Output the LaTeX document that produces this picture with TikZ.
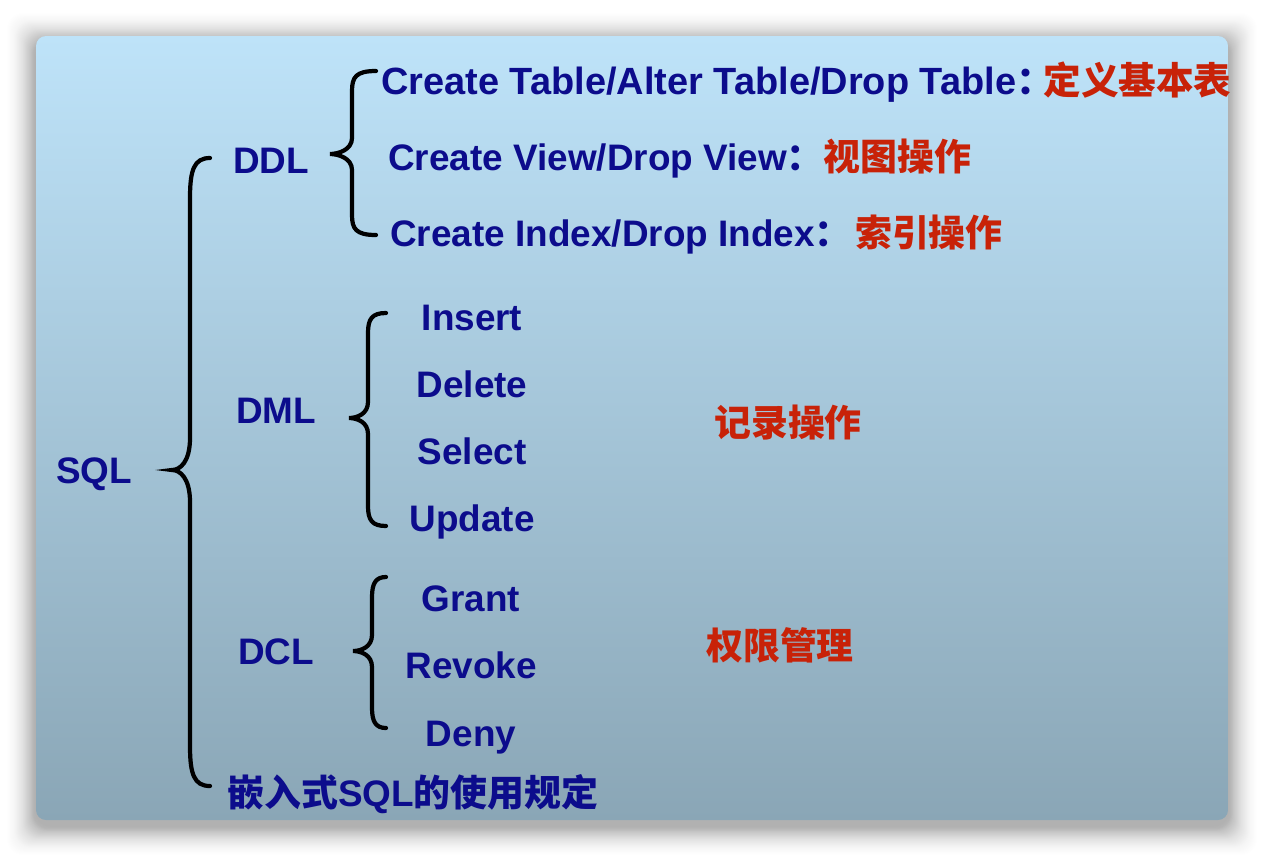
\documentclass[tikz,border=0pt]{standalone}
\usepackage{fontspec}
\setmainfont{Liberation Sans}
\newfontfamily\cjk{Noto Sans CJK SC}
\usepackage{xcolor}
\usepackage{tikz}

\definecolor{sqlnavy}{RGB}{12,12,140}
\definecolor{sqlred}{RGB}{200,34,8}
\definecolor{paneltop}{RGB}{190,227,249}
\definecolor{panelbot}{RGB}{138,166,182}

% brace: end x, vertical x, tip x, top y, tip y, bottom y, curl
\newcommand{\sqlbrace}[7]{%
  \draw[brace line] (#1,#4) .. controls ({#2+4},#4) and (#2,{#4+#7*0.3}) .. (#2,{#4+#7})
    -- (#2,{#5-#7*0.8}) .. controls (#2,{#5-#7*0.2}) and ({#3+8},#5) .. (#3,#5)
    .. controls ({#3+8},#5) and (#2,{#5+#7*0.2}) .. (#2,{#5+#7*0.8})
    -- (#2,{#6-#7}) .. controls (#2,{#6-#7*0.3}) and ({#2+4},#6) .. (#1,#6);}

\tikzset{
  navy text/.style={text=sqlnavy, font=\fontsize{21}{25}\selectfont\bfseries,
    inner sep=0pt, text height=15pt, text depth=0pt},
  red text/.style={navy text, text=sqlred},
  brace line/.style={black, line width=2.4pt, line cap=round},
}

\begin{document}
\begin{tikzpicture}[x=0.02cm, y=-0.02cm]
    \useasboundingbox (0,0) rectangle (1264,856);

    % panel with soft shadow
    \foreach \i in {1,...,40} {
        \pgfmathsetmacro\shop{0.0004*(41-\i)}
        \fill[black, opacity=\shop, rounded corners=0.3cm]
            ({36-\i*0.8},{42-\i*0.8}) rectangle ({1228+\i*0.8},{826+\i*0.8});
    }
    \shade[top color=paneltop, bottom color=panelbot, rounded corners=0.2cm]
        (36,36) rectangle (1228,820);

    % root
    \node[navy text] (sql) at (94,470) {SQL};
    \sqlbrace{210}{190}{172}{158}{470}{786}{40}

    % DDL
    \node[navy text] (ddl) at (271,160) {DDL};
    \sqlbrace{376}{352}{330}{71}{154}{235}{20}
    \node[navy text, anchor=west] (ctab) at (381,81)
        {\fontsize{21.6}{25}\selectfont Create Table/Alter Table/Drop Table{\cjk ：}\hspace{-6pt}%
         \textcolor{sqlred}{\fontsize{21.4}{25}\selectfont\cjk 定义基本表}};
    \node[navy text, anchor=west] (cview) at (388,157)
        {Create View/Drop View{\cjk ：}\textcolor{sqlred}{\cjk 视图操作}};
    \node[navy text, anchor=west] (cidx) at (390,233)
        {Create Index/Drop Index{\cjk ：}\hspace{2pt}\textcolor{sqlred}{\cjk 索引操作}};

    % DML
    \node[navy text] (dml) at (276,410) {DML};
    \sqlbrace{386}{368}{349}{313}{418}{526}{20}
    \node[navy text] (ins) at (472,317) {Insert};
    \node[navy text] (del) at (472,384) {Delete};
    \node[navy text] (sel) at (472,451) {Select};
    \node[navy text] (upd) at (472,518) {Update};
    \node[red text, font=\fontsize{21}{25}\selectfont\bfseries\cjk] (recop) at (788,423) {记录操作};

    % DCL
    \node[navy text] (dcl) at (276,651) {DCL};
    \sqlbrace{386}{372}{353}{577}{651}{728}{20}
    \node[navy text] (grant) at (471,598) {Grant};
    \node[navy text] (revoke) at (471,665) {Revoke};
    \node[navy text] (deny) at (471,733) {Deny};
    \node[red text, font=\fontsize{21}{25}\selectfont\bfseries\cjk] (authmg) at (780,646) {权限管理};

    % embedded
    \node[navy text, anchor=west] (embed) at (227,793) {{\cjk 嵌入式}SQL{\cjk 的使用规定}};
\end{tikzpicture}
\end{document}
